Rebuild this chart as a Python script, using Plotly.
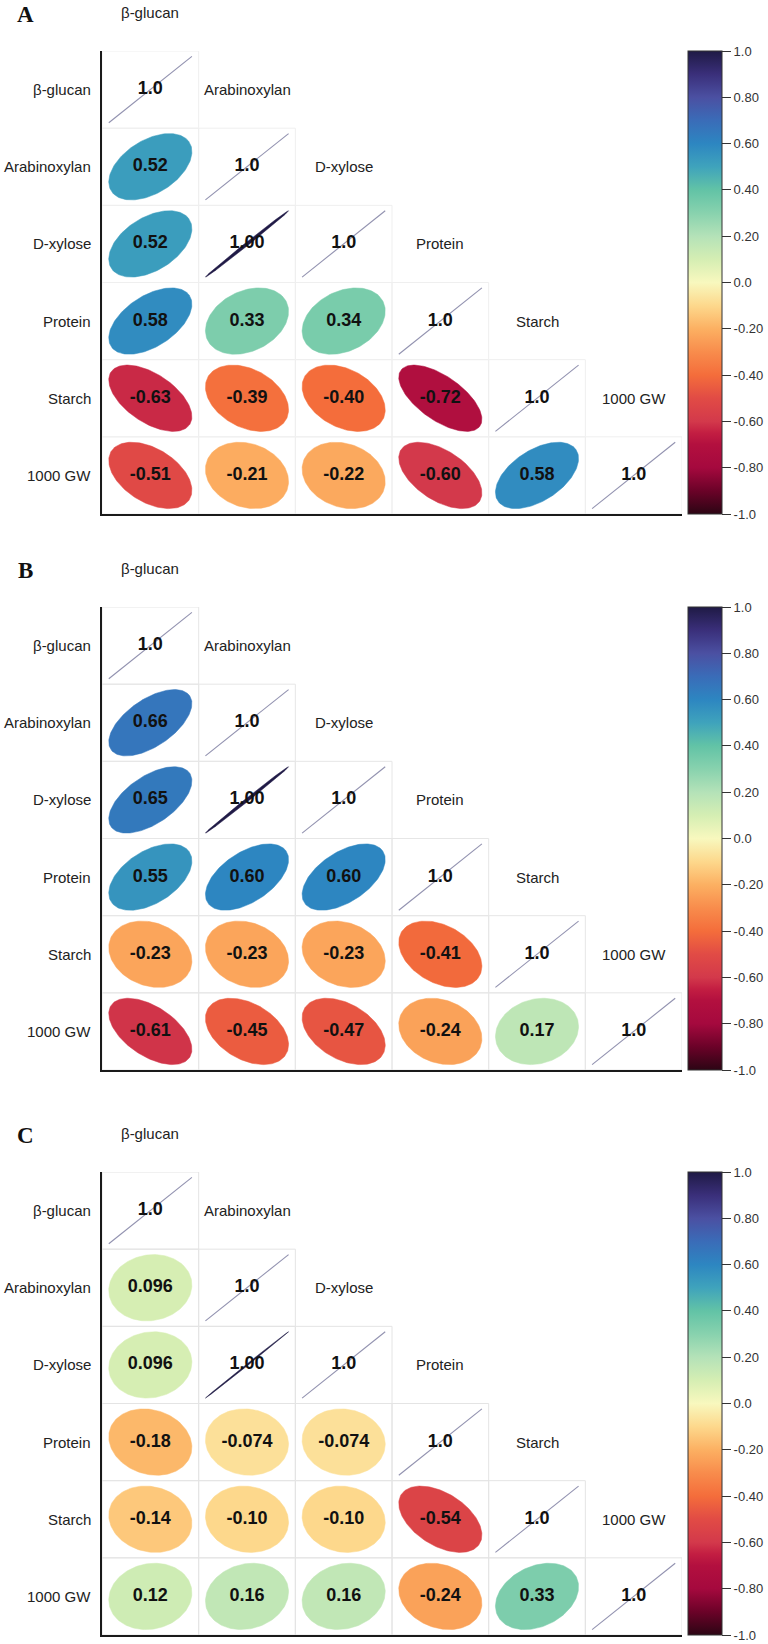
import numpy as np
import plotly.graph_objects as go
from plotly.colors import sample_colorscale

# ---------------- data ----------------
variables = ["β-glucan", "Arabinoxylan", "D-xylose", "Protein", "Starch", "1000 GW"]
panel_letters = ["A", "B", "C"]

# lower-triangle correlations (row i holds columns 0..i-1)
corr_A = [[0.52],
          [0.52, 0.998],
          [0.58, 0.33, 0.34],
          [-0.63, -0.39, -0.40, -0.72],
          [-0.51, -0.21, -0.22, -0.60, 0.58]]
text_A = [["0.52"],
          ["0.52", "1.00"],
          ["0.58", "0.33", "0.34"],
          ["-0.63", "-0.39", "-0.40", "-0.72"],
          ["-0.51", "-0.21", "-0.22", "-0.60", "0.58"]]

corr_B = [[0.66],
          [0.65, 0.998],
          [0.55, 0.60, 0.60],
          [-0.23, -0.23, -0.23, -0.41],
          [-0.61, -0.45, -0.47, -0.24, 0.17]]
text_B = [["0.66"],
          ["0.65", "1.00"],
          ["0.55", "0.60", "0.60"],
          ["-0.23", "-0.23", "-0.23", "-0.41"],
          ["-0.61", "-0.45", "-0.47", "-0.24", "0.17"]]

corr_C = [[0.096],
          [0.096, 0.9995],
          [-0.18, -0.074, -0.074],
          [-0.14, -0.10, -0.10, -0.54],
          [0.12, 0.16, 0.16, -0.24, 0.33]]
text_C = [["0.096"],
          ["0.096", "1.00"],
          ["-0.18", "-0.074", "-0.074"],
          ["-0.14", "-0.10", "-0.10", "-0.54"],
          ["0.12", "0.16", "0.16", "-0.24", "0.33"]]

diag_text = "1.0"

cbar_tickvals = [-1.0, -0.8, -0.6, -0.4, -0.2, 0.0, 0.2, 0.4, 0.6, 0.8, 1.0]
cbar_ticktext = ["-1.0", "-0.80", "-0.60", "-0.40", "-0.20", "0.0", "0.20", "0.40", "0.60", "0.80", "1.0"]

# colour scale (value -> colour)
scale_vals = [-1.0, -0.9, -0.8, -0.7, -0.65, -0.6, -0.5, -0.4, -0.3, -0.2, -0.1, 0.0,
              0.1, 0.2, 0.3, 0.4, 0.5, 0.6, 0.7, 0.8, 0.9, 1.0]
scale_cols = ["#2c0514", "#6b0228", "#a5093e", "#b3103f", "#c31e42", "#d3394b", "#e14b45",
              "#f46d3b", "#f88c4c", "#fcb062", "#fdd88c", "#f8f8be",
              "#d5eeb3", "#b4e2b8", "#88d2ae", "#62c3a6", "#3fa3bc", "#2d86c1",
              "#3a6cb8", "#4b50a2", "#3a2f7a", "#1f1a45"]
colorscale = [[(v + 1) / 2, c] for v, c in zip(scale_vals, scale_cols)]

panels = [(corr_A, text_A), (corr_B, text_B), (corr_C, text_C)]
grid_cols = ["#efefef", "#e6e6e6", "#e4e4e4"]

# ---------------- layout geometry (pixels) ----------------
W, H = 768, 1644
GRID_L, GRID_R = 102, 682
PANEL_TOPS = [51, 607, 1172]
PANEL_H = 463
CB_L, CB_W = 688, 34
S = 0.86          # ellipse size relative to cell
SHAPE_K = 0.88    # visual squeeze of ellipse eccentricity
LABEL_FONT = "Liberation Sans, Arial, sans-serif"

fig = go.Figure()
layout_axes = {}
shapes = []
annotations = []
n = len(variables)
colw = (GRID_R - GRID_L) / n
rowh = PANEL_H / n
k = np.linspace(0, 2 * np.pi, 160)

for p, (corr, texts) in enumerate(panels):
    sfx = "" if p == 0 else str(p + 1)
    xa, ya = "x" + sfx, "y" + sfx
    top = PANEL_TOPS[p]
    bot = top + PANEL_H
    layout_axes["xaxis" + sfx] = dict(domain=[GRID_L / W, GRID_R / W], range=[0, n],
                                      anchor=ya, showgrid=False, zeroline=False,
                                      showticklabels=False, ticks="", showline=True,
                                      linecolor="#1a1a1a", linewidth=2, fixedrange=True)
    layout_axes["yaxis" + sfx] = dict(domain=[1 - bot / H, 1 - top / H], range=[0, n],
                                      anchor=xa, showgrid=False, zeroline=False,
                                      showticklabels=False, ticks="", showline=True,
                                      linecolor="#1a1a1a", linewidth=2, fixedrange=True)

    # faint cell grid for the lower triangle incl. diagonal
    for i in range(n):
        for j in range(i + 1):
            shapes.append(dict(type="rect", xref=xa, yref=ya, x0=j, x1=j + 1,
                               y0=n - 1 - i, y1=n - i,
                               line=dict(color=grid_cols[p], width=1), layer="below"))

    tx, ty, tt = [], [], []
    # diagonal lines
    for i in range(n):
        cx, cy = i + 0.5, n - 0.5 - i
        fig.add_trace(go.Scatter(x=[cx - S / 2, cx + S / 2], y=[cy - S / 2, cy + S / 2],
                                 mode="lines", line=dict(color="#9292b0", width=1.1),
                                 xaxis=xa, yaxis=ya, hoverinfo="skip", showlegend=False))
        tx.append(cx); ty.append(cy); tt.append(diag_text)
    # ellipses
    for ii, row in enumerate(corr):
        i = ii + 1
        for j, r in enumerate(row):
            cx, cy = j + 0.5, n - 0.5 - i
            rs = r if abs(r) > 0.99 else r * SHAPE_K
            d = np.arccos(rs)
            ex = cx + S * np.cos(k + d / 2) / 2
            ey = cy + S * np.cos(k - d / 2) / 2
            col = sample_colorscale(colorscale, [(r + 1) / 2])[0]
            fig.add_trace(go.Scatter(x=ex, y=ey, mode="lines", fill="toself",
                                     fillcolor=col, line=dict(width=0.5, color=col),
                                     xaxis=xa, yaxis=ya, hoverinfo="skip", showlegend=False))
            tx.append(cx); ty.append(cy); tt.append(texts[ii][j])
    fig.add_trace(go.Scatter(x=tx, y=ty, text=tt, mode="text",
                             textfont=dict(family=LABEL_FONT, size=18, color="#111111",
                                           weight="bold"),
                             xaxis=xa, yaxis=ya, hoverinfo="skip", showlegend=False))

    # labels (paper coordinates derived from the grid geometry)
    for i, name in enumerate(variables):
        ry = top + (i + 0.5) * rowh
        annotations.append(dict(text=name, xref="paper", yref="paper",
                                x=(GRID_L - 9) / W, y=1 - ry / H,
                                xanchor="right", yanchor="middle", showarrow=False,
                                font=dict(family=LABEL_FONT, size=15, color="#222222")))
        cxp = GRID_L + (i + 0.5) * colw
        ty_ = top + (i - 0.5) * rowh
        annotations.append(dict(text=name, xref="paper", yref="paper",
                                x=cxp / W, y=1 - ty_ / H,
                                xanchor="center", yanchor="middle", showarrow=False,
                                font=dict(family=LABEL_FONT, size=15, color="#222222")))
    annotations.append(dict(text="<b>" + panel_letters[p] + "</b>", xref="paper", yref="paper",
                            x=25 / W, y=1 - (top - 37) / H, xanchor="center", yanchor="middle",
                            showarrow=False,
                            font=dict(family="Liberation Serif, Times New Roman, serif",
                                      size=23, color="#111111")))

    # colour bar
    cax = "coloraxis" + ("" if p == 0 else str(p + 1))
    layout_axes[cax] = dict(
        colorscale=colorscale, cmin=-1, cmax=1,
        colorbar=dict(x=CB_L / W, xanchor="left", xpad=0,
                      y=1 - top / H, yanchor="top", ypad=0,
                      len=PANEL_H, lenmode="pixels", thickness=CB_W, thicknessmode="pixels",
                      outlinewidth=1, outlinecolor="#333333",
                      tickvals=cbar_tickvals, ticktext=cbar_ticktext,
                      ticks="outside", ticklen=9, tickcolor="#333333", tickwidth=1,
                      tickfont=dict(family=LABEL_FONT, size=13, color="#333333")))
    fig.add_trace(go.Scatter(x=[0.5, 0.5], y=[0.5, 0.5], mode="markers",
                             marker=dict(color=[-1, 1], coloraxis=cax, size=1, opacity=0),
                             xaxis=xa, yaxis=ya, hoverinfo="skip", showlegend=False))

fig.update_layout(width=W, height=H, margin=dict(l=0, r=0, t=0, b=0),
                  paper_bgcolor="white", plot_bgcolor="rgba(0,0,0,0)",
                  shapes=shapes, annotations=annotations, showlegend=False,
                  **layout_axes)

fig.write_html("out.html")
